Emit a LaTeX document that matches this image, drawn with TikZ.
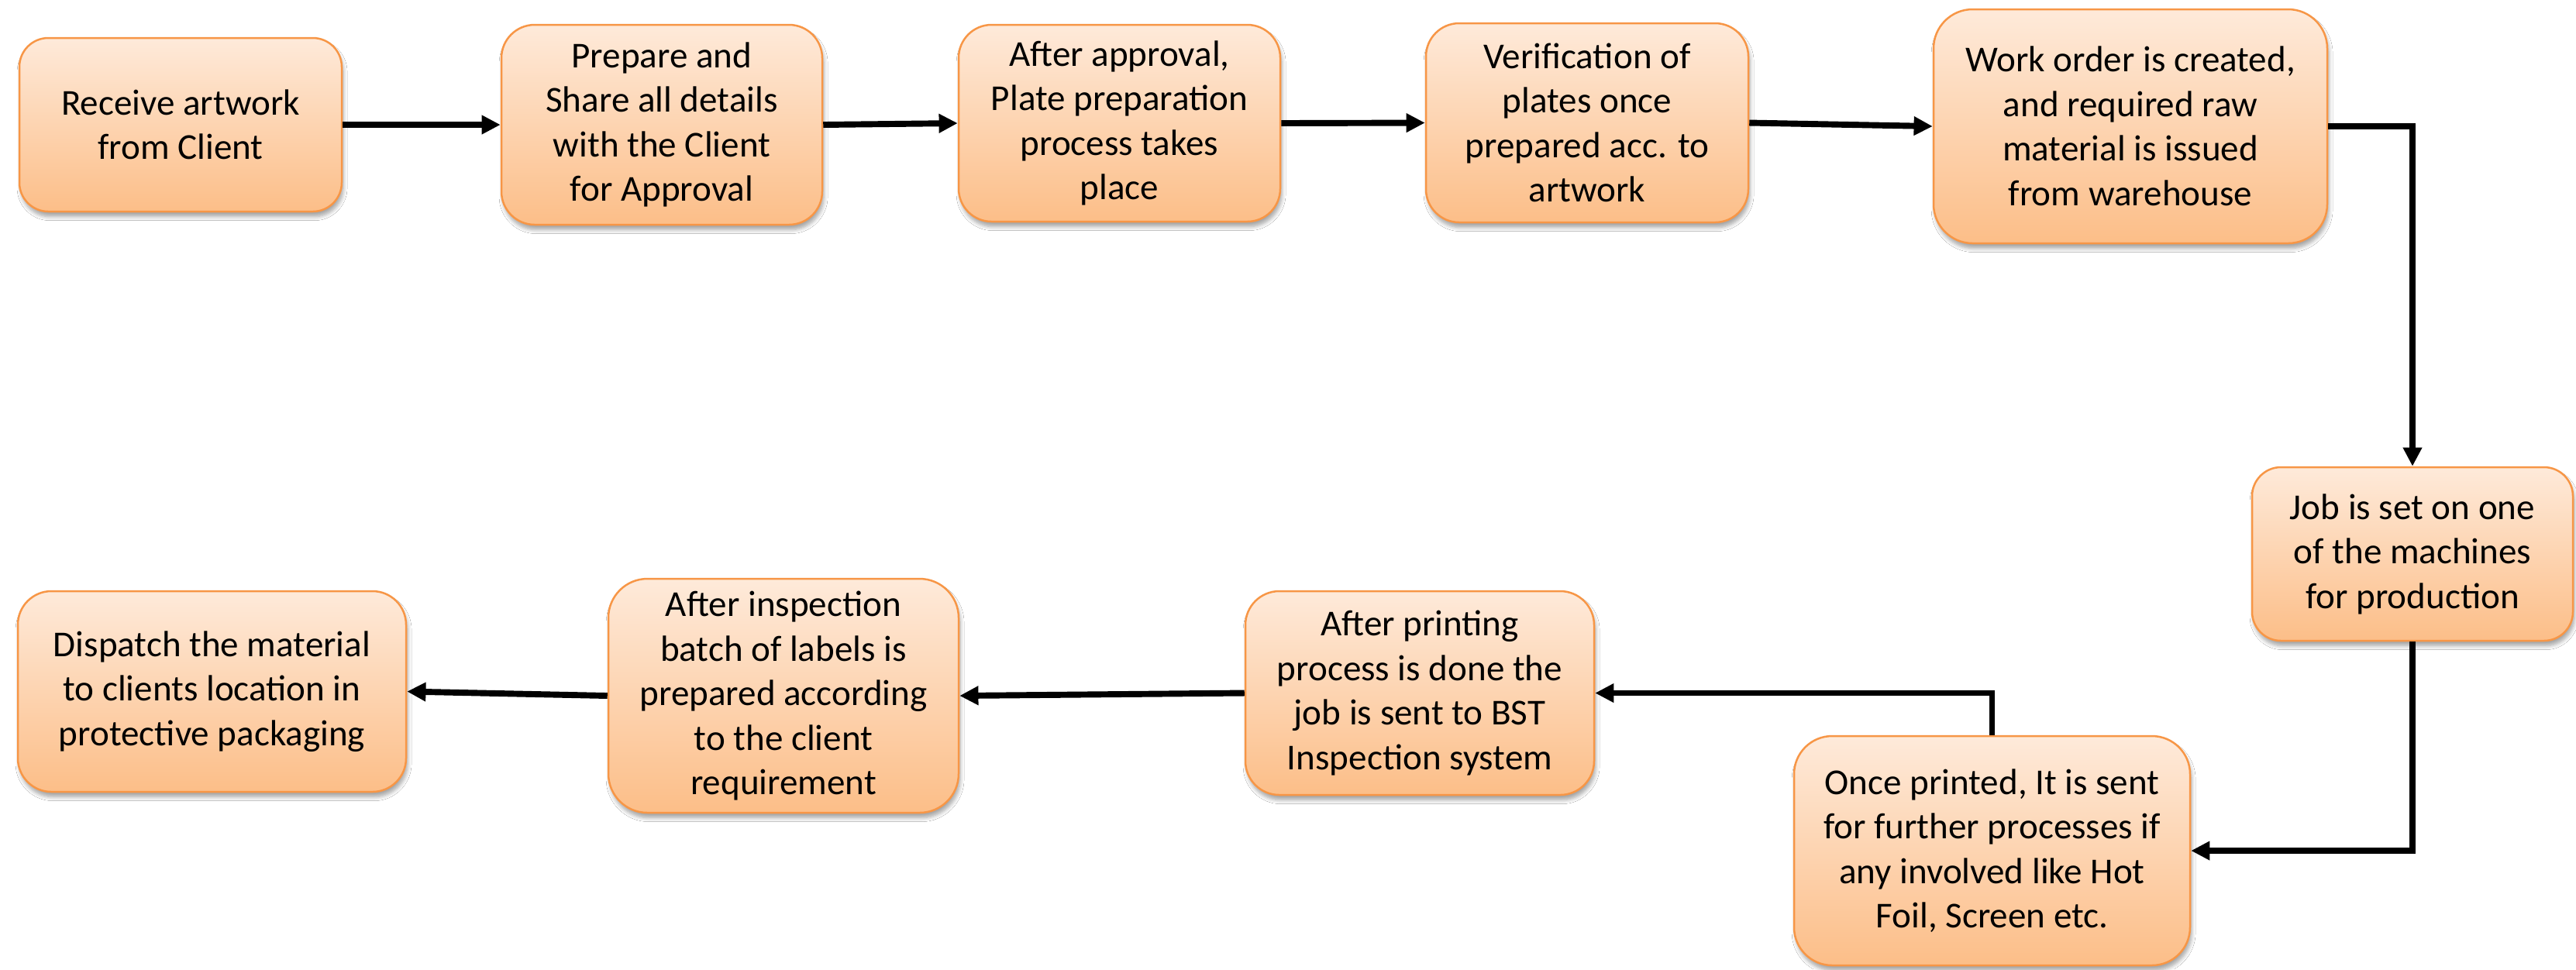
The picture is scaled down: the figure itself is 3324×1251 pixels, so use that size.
\documentclass[tikz,border=0pt]{standalone}
\usepackage{fontspec}
\setmainfont{Carlito}
\usetikzlibrary{arrows.meta,shadows.blur}
\definecolor{boxborder}{RGB}{247,150,70}
\definecolor{boxtop}{RGB}{254,234,218}
\definecolor{boxbottom}{RGB}{252,190,136}
\tikzset{
  procbox/.style={rectangle, draw=boxborder, line width=0.6pt,
    top color=boxtop, bottom color=boxbottom, align=center, inner sep=0pt,
    font=\fontsize{11.3pt}{13.8pt}\selectfont,
    blur shadow={shadow xshift=0.5pt, shadow yshift=-1.6pt, shadow blur steps=6,
      shadow blur radius=1.2pt, shadow opacity=35}},
  flow/.style={line width=1.9pt, line join=miter, black,
    -{Triangle[length=5.8pt,width=5.6pt]}}
}
\newcommand{\pbox}[7]{%
  \node[procbox, minimum width=#4*0.24pt, minimum height=#5*0.24pt,
    rounded corners=#6pt] (#1) at (#2,#3) {#7};}
\begin{document}
\begin{tikzpicture}[x=0.24pt,y=-0.24pt]
\useasboundingbox[fill=white] (0,0) rectangle (3324,1251);
\pbox{b1}{233}{161}{416}{224}{8.96}{Receive artwork\\from Client}
\pbox{b2}{854}{161}{414}{258}{10.3}{Prepare and\\Share all details\\with the Client\\for Approval}
\pbox{b3}{1444.5}{159}{415}{254}{10.2}{After approval,\\Plate preparation\\process takes\\place}
\pbox{b4}{2048}{158.5}{416}{257}{10.3}{Verification of\\plates once\\prepared acc. to\\artwork}
\pbox{b5}{2749}{163}{508}{302}{12.1}{Work order is created,\\and required raw\\material is issued\\from warehouse}
\pbox{b6}{3113}{715}{414}{224}{8.96}{Job is set on one\\of the machines\\for production}
\pbox{b7}{2570.5}{1098}{511}{296}{11.8}{Once printed, It is sent\\for further processes if\\any involved like Hot\\Foil, Screen etc.}
\pbox{b8}{1832}{894.5}{450}{263}{10.5}{After printing\\process is done the\\job is sent to BST\\Inspection system}
\pbox{b9}{1011}{898}{452}{302}{12.1}{After inspection\\batch of labels is\\prepared according\\to the client\\requirement}
\pbox{b10}{273.5}{892.5}{501}{259}{10.4}{Dispatch the material\\to clients location in\\protective packaging}
\draw[flow] (b1.east) -- (b2.west);
\draw[flow] (b2.east) -- (b3.west);
\draw[flow] (b3.east) -- (b4.west);
\draw[flow] (b4.east) -- (b5.west);
\draw[flow] (b5.east) -| (b6.north);
\draw[flow] (b6.south) |- (b7.east);
\draw[flow] (b7.north) |- (b8.east);
\draw[flow] (b8.west) -- (b9.east);
\draw[flow] (b9.west) -- (b10.east);
\end{tikzpicture}
\end{document}
